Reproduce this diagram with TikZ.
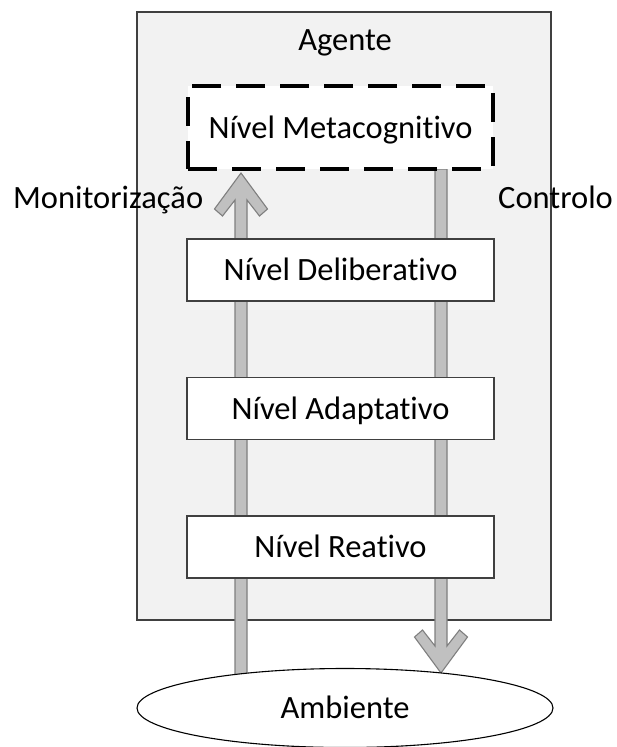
\documentclass[tikz,border=0pt]{standalone}
\usepackage{fontspec}
\setmainfont[Ligatures=NoCommon]{Carlito}
\usetikzlibrary{shapes.geometric,calc}
\definecolor{panelgrey}{HTML}{F2F2F2}
\definecolor{edgegrey}{HTML}{404040}
\definecolor{flowfill}{HTML}{C0C0C0}
\definecolor{flowedge}{HTML}{7F7F7F}
\tikzset{
  txt/.style={font=\fontsize{32.5}{36}\selectfont, text height=21pt, text depth=0pt, inner sep=0pt},
  levelbox/.style={txt, draw=edgegrey, line width=1.3pt, fill=white,
    minimum width=307pt, minimum height=62pt},
  metabox/.style={txt, draw=black, line width=3.5pt, fill=white,
    dash pattern=on 29pt off 15pt, minimum width=305pt, minimum height=83pt},
  flow/.style={fill=flowfill, draw=flowedge, line width=1.1pt, line join=miter},
}
% chevron-headed block arrow: tip at the origin, shaft running along +y for #1
\newcommand{\chevronarrow}[1]{%
  (0,0) -- (26.5,36) -- (18.5,43) -- (6,27) -- (6,#1) -- (-6,#1) -- (-6,27)
  -- (-18.5,43) -- (-26.5,36) -- cycle}
\begin{document}
\begin{tikzpicture}[x=1pt,y=-1pt]
\useasboundingbox (0,0) rectangle (617,747);

% agent frame
\node[draw=edgegrey, fill=panelgrey, line width=1.3pt, minimum width=414pt,
  minimum height=608pt, inner sep=0pt] (agente) at (344,316) {};
\node[txt] (agtitle) at (345,39.5) {Agente};

% tips of the two flows
\coordinate (montip) at (241,173);
\coordinate (ctltip) at (441,673);

% monitoring flow (up) and control flow (down)
\draw[flow, shift={(montip)}] \chevronarrow{505};
\draw[flow, shift={(ctltip)}, yscale=-1] \chevronarrow{504};

\node[metabox] (meta) at (340.5,127.5) {Nível Metacognitivo};
\node[levelbox] (delib) at (340.5,270) {Nível Deliberativo};
\node[levelbox] (adapt) at (340.5,408.5) {Nível Adaptativo};
\node[levelbox] (reat) at (340.5,547) {Nível Reativo};

\node[txt, ellipse, draw=black, line width=1.1pt, fill=white,
  minimum width=416pt, minimum height=79pt] (amb) at (345,708) {Ambiente};

\node[txt, anchor=west] (mon) at (13,197.5) {Monitorização};
\node[txt, anchor=west] (ctl) at (498,197.5) {Controlo};
\end{tikzpicture}
\end{document}
